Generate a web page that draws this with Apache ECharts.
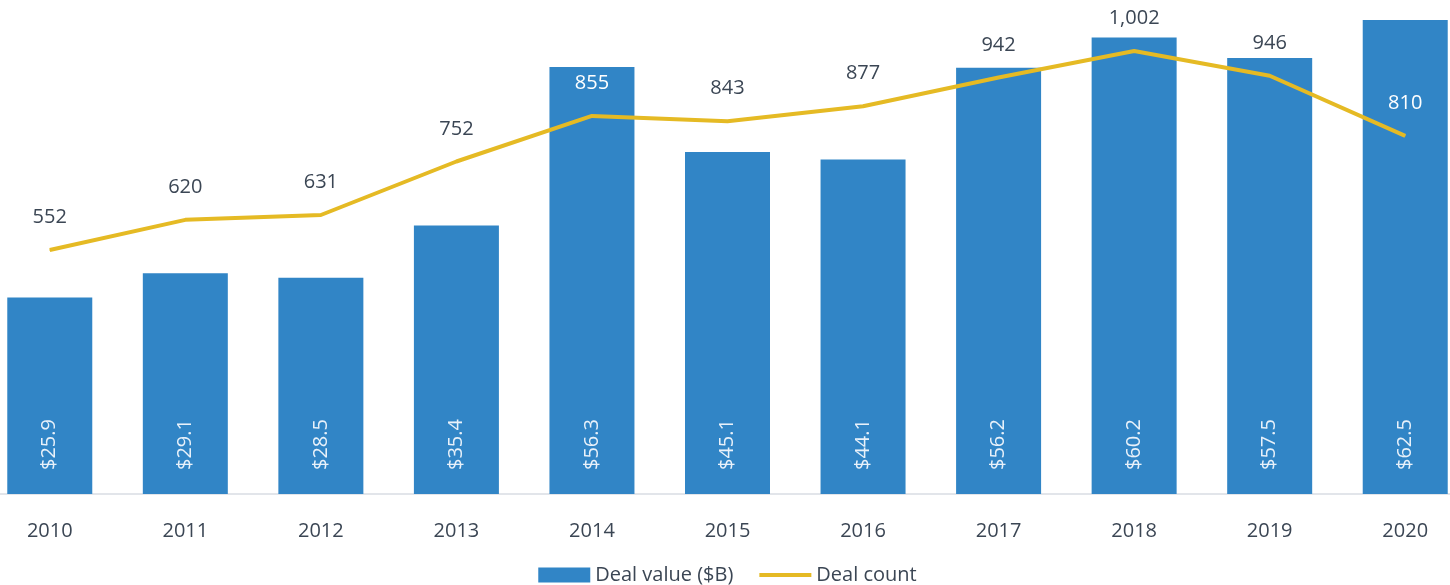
<!DOCTYPE html>
<html>
<head>
<meta charset="utf-8">
<title>Deal value and deal count</title>
<script src="https://cdn.jsdelivr.net/npm/echarts@6/dist/echarts.min.js"></script>
<style>
html, body { margin: 0; padding: 0; background: #fff; overflow: hidden; }
/* plot area runs past both window edges, as in the original */
#chart { width: 1491px; height: 585px; margin-left: -18px; }
</style>
</head>
<body>
<div id="chart"></div>
<script>
// data
var years = ['2010', '2011', '2012', '2013', '2014', '2015', '2016', '2017', '2018', '2019', '2020'];
var dealValue = [25.9, 29.1, 28.5, 35.4, 56.3, 45.1, 44.1, 56.2, 60.2, 57.5, 62.5];
var dealCount = [552, 620, 631, 752, 855, 843, 877, 942, 1002, 946, 810];
// counts whose label sits over a bar (white text)
var whiteLabels = ['2014', '2020'];

var textColor = '#3b4654';
var font = '"Open Sans", "Noto Sans", sans-serif';

var countData = dealCount.map(function (v, i) {
  var d = { value: v };
  if (whiteLabels.indexOf(years[i]) >= 0) {
    d.label = { color: '#ffffff' };
  }
  return d;
});

var myChart = echarts.init(document.getElementById('chart'));
var option = {
  animation: false,
  textStyle: { fontFamily: font },
  grid: { left: 0, right: 0, top: 20, bottom: 91 },
  legend: {
    top: 560,
    left: 'center',
    itemGap: 26,
    itemWidth: 52,
    itemHeight: 15,
    textStyle: { color: textColor, fontSize: 20, fontFamily: font },
    data: [
      { name: 'Deal value ($B)', icon: 'rect' },
      { name: 'Deal count', icon: 'path://M0,0 L52,0 L52,4 L0,4 Z', itemStyle: { color: '#e5ba24' } }
    ]
  },
  xAxis: {
    type: 'category',
    data: years,
    axisLine: { lineStyle: { color: '#d9dde3', width: 1.5 } },
    axisTick: { show: false },
    axisLabel: { color: textColor, fontSize: 20, margin: 27, fontFamily: font }
  },
  yAxis: [
    { type: 'value', min: 0, max: 62.5, show: false, splitLine: { show: false } },
    { type: 'value', min: 0, max: 1072, show: false, splitLine: { show: false } }
  ],
  series: [
    {
      name: 'Deal value ($B)',
      type: 'bar',
      yAxisIndex: 0,
      barWidth: 85,
      data: dealValue,
      itemStyle: { color: '#3185c6' },
      label: {
        show: true,
        position: 'insideBottom',
        rotate: 90,
        align: 'left',
        verticalAlign: 'middle',
        distance: 24,
        color: '#e8f1fa',
        fontSize: 20,
        fontFamily: font,
        formatter: function (p) { return '$' + p.value.toFixed(1); }
      }
    },
    {
      name: 'Deal count',
      type: 'line',
      yAxisIndex: 1,
      data: countData,
      symbol: 'circle',
      symbolSize: 1,
      showSymbol: true,
      lineStyle: { color: '#e5ba24', width: 4 },
      itemStyle: { color: '#e5ba24' },
      z: 3,
      label: {
        show: true,
        position: 'top',
        distance: 22,
        color: textColor,
        fontSize: 20,
        fontFamily: font,
        formatter: function (p) { return p.value.toLocaleString('en-US'); }
      }
    }
  ]
};
myChart.setOption(option);
</script>
</body>
</html>
